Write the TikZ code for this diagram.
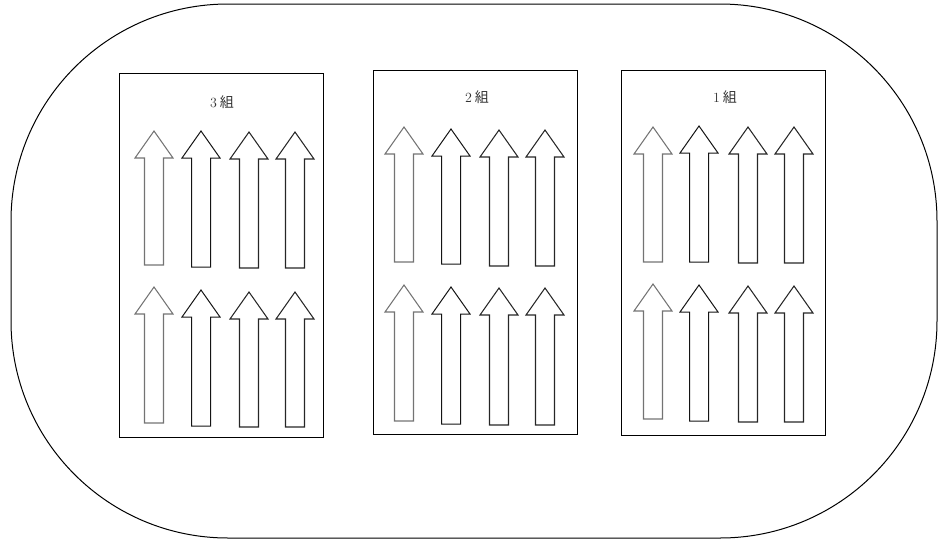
\documentclass[tikz,border=0pt]{standalone}
\usepackage{fontspec}
\newfontfamily\cjkfont{Noto Sans CJK JP}
\begin{document}
\begin{tikzpicture}[x=1pt,y=-1pt,
  outer/.style={draw=black,line width=1pt},
  groupbox/.style={draw=black,line width=1pt,minimum width=204pt,inner sep=0pt},
  grouplabel/.style={font=\fontsize{14}{16}\selectfont,text=black!80},
  arrgray/.style={draw=black!55,line width=1.05pt},
  arrblack/.style={draw=black!92,line width=1pt},
  arrdark/.style={draw=black!85,line width=1.05pt}]
\useasboundingbox (0,0) rectangle (938,542);
\newcommand\UpArr[4]{%
  \draw[#1] ({#2-19},{#3+27}) -- (#2,#3) -- ({#2+19},{#3+27}) -- ({#2+9.5},{#3+27})
    -- ({#2+9.5},#4) -- ({#2-9.5},#4) -- ({#2-9.5},{#3+27}) -- cycle;}
% outer track
\draw[outer,rounded corners=217pt] (11,4) rectangle (937,538);
% group boxes
\node[groupbox,minimum height=364pt] (g3) at (221,255.5) {};
\node[groupbox,minimum height=364pt] (g2) at (475,252) {};
\node[groupbox,minimum height=365pt] (g1) at (723.5,252.5) {};
\node[grouplabel] (l3) at (222,102) {3\hspace{3pt}{\cjkfont 組}};
\node[grouplabel] (l2) at (477,97) {2\hspace{3pt}{\cjkfont 組}};
\node[grouplabel] (l1) at (725,97) {1\hspace{3pt}{\cjkfont 組}};
% group 3 arrows
\UpArr{arrgray}{154}{131}{265}
\UpArr{arrblack}{201}{131}{267}
\UpArr{arrdark}{249}{132}{268}
\UpArr{arrdark}{295}{132}{268}
\UpArr{arrgray}{154}{287}{423}
\UpArr{arrblack}{201}{290}{426}
\UpArr{arrdark}{249}{292}{427}
\UpArr{arrdark}{295}{292}{427}
% group 2 arrows
\UpArr{arrgray}{404}{127}{262}
\UpArr{arrblack}{451}{129}{264}
\UpArr{arrdark}{499}{130}{266}
\UpArr{arrdark}{545}{130}{266}
\UpArr{arrgray}{404}{285}{421}
\UpArr{arrblack}{451}{287}{424}
\UpArr{arrdark}{499}{288}{425}
\UpArr{arrdark}{545}{288}{425}
% group 1 arrows
\UpArr{arrgray}{653}{127}{262}
\UpArr{arrblack}{699}{126}{262}
\UpArr{arrdark}{748}{127}{263}
\UpArr{arrdark}{794}{127}{263}
\UpArr{arrgray}{653}{284}{419}
\UpArr{arrblack}{699}{285}{421}
\UpArr{arrdark}{748}{286}{422}
\UpArr{arrdark}{794}{286}{422}
\end{tikzpicture}
\end{document}
